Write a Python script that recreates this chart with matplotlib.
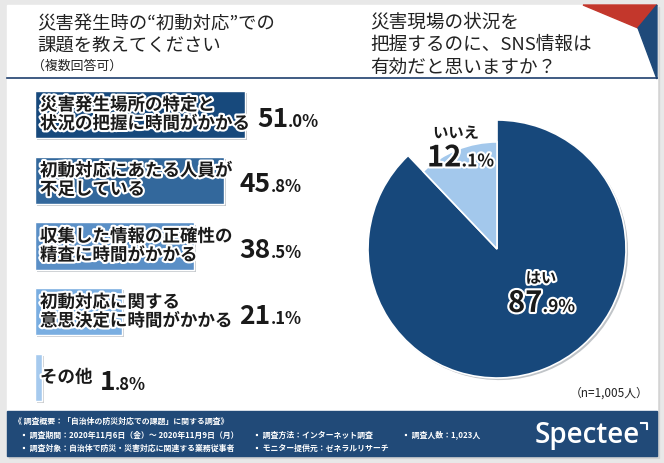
import matplotlib.pyplot as plt
import matplotlib.patheffects as pe
from matplotlib.patches import Rectangle, Polygon

plt.rcParams['font.family'] = ['Noto Sans CJK JP', 'DejaVu Sans']

# Data
issue_labels = ['災害発生場所の特定と\n状況の把握に時間がかかる',
                '初動対応にあたる人員が\n不足している',
                '収集した情報の正確性の\n精査に時間がかかる',
                '初動対応に関する\n意思決定に時間がかかる',
                'その他']
issue_values = [51.0, 45.8, 38.5, 21.1, 1.8]
bar_colors = ['#17497c', '#33689c', '#5a8fc6', '#7aaee1', '#a6caee']

pie_labels = ['はい', 'いいえ']
pie_values = [87.9, 12.1]
pie_colors = ['#17487b', '#a3c8ec']

left_title = ['災害発生時の“初動対応”での', '課題を教えてください']
right_title = ['災害現場の状況を', '把握するのに、SNS情報は', '有効だと思いますか？']

W, H = 664, 464
fig = plt.figure(figsize=(W / 100, H / 100), dpi=100)
fig.patch.set_facecolor('#e8e8e8')

# background card, drawn in pixel coordinates
bg = fig.add_axes([0, 0, 1, 1])
bg.set_xlim(0, W)
bg.set_ylim(H, 0)
bg.axis('off')
bg.set_zorder(-1)
bg.add_patch(Rectangle((9, 8), 650, 451, color='#d4d4d4'))
bg.add_patch(Rectangle((7, 6), 650, 406, color='white'))
bg.add_patch(Rectangle((7, 412), 650, 45, color='#214a78'))
bg.add_patch(Polygon([(583, 6), (657, 6), (638, 29)], color='#c3372c'))
bg.add_patch(Polygon([(657, 6), (638, 29), (657, 80)], color='#1f4a7a'))
bg.plot([7, 657], [79, 79], color='#1f3f6e', lw=1.2)

for k, line in enumerate(left_title):
    bg.text(37, 24 + k * 21.5, line, fontsize=13.2, va='center', ha='left', color='#222222')
bg.text(32, 66, '（複数回答可）', fontsize=9.3, va='center', ha='left', color='#222222')
for k, line in enumerate(right_title):
    bg.text(370, 22 + k * 23, line, fontsize=13.4, va='center', ha='left', color='#222222')
bg.text(648, 393, '（n=1,005人）', fontsize=8.5, va='center', ha='right', color='#222222')

# footer
foot_kw = dict(fontsize=5.7, color='white', va='center', ha='left', fontweight='bold')
bg.text(14, 421, '《 調査概要：「自治体の防災対応での課題」に関する調査》', **foot_kw)
bg.text(20, 435, '▪ 調査期間：2020年11月6日（金）～ 2020年11月9日（月）', **foot_kw)
bg.text(20, 448, '▪ 調査対象：自治体で防災・災害対応に関連する業務従事者', **foot_kw)
bg.text(253, 435, '▪ 調査方法：インターネット調査', **foot_kw)
bg.text(253, 448, '▪ モニター提供元：ゼネラルリサーチ', **foot_kw)
bg.text(402, 435, '▪ 調査人数：1,023人', **foot_kw)
bg.text(640, 436, 'Spectee', fontsize=20, family='Open Sans', fontweight='semibold',
        color='white', va='center', ha='right')
bg.plot([641, 647, 647], [424, 424, 430], color='white', lw=1.5)

# bar chart
px_per_pct = 4.12
ax = fig.add_axes([35 / W, 1 - 411.4 / H, 80 * px_per_pct / W, 328.8 / H])
ax.set_xlim(0, 80)
ax.set_ylim(4.5, -0.5)
ax.axis('off')
shadow = [pe.SimplePatchShadow(offset=(1.5, -1.5), alpha=0.25), pe.Normal()]
bars = ax.barh(range(len(issue_values)), issue_values, height=0.715,
               color=bar_colors, edgecolor='white', linewidth=1)
for b in bars:
    b.set_path_effects(shadow)

outline = [pe.withStroke(linewidth=3, foreground='white')]
for i, (lab, val) in enumerate(zip(issue_labels, issue_values)):
    t = ax.text(1.2, i, lab, fontsize=12.6, fontweight='bold', va='center', ha='left',
                linespacing=1.05, color='#1a1a1a', path_effects=outline)
    whole, frac = f'{val:.1f}'.split('.')
    big = ax.annotate(whole, xy=(1, i), xycoords=(t, 'data'), xytext=(5, -8),
                      textcoords='offset points', fontsize=19, fontweight='bold',
                      va='baseline', ha='left', color='#1a1a1a')
    ax.annotate('.' + frac + '%', xy=(1, i), xycoords=(big, 'data'), xytext=(0, -8),
                textcoords='offset points', fontsize=12, fontweight='bold',
                va='baseline', ha='left', color='#1a1a1a')

# pie chart
R = 129
pax = fig.add_axes([(497 - R) / W, 1 - (250 + R) / H, 2 * R / W, 2 * R / H])
wedges, _ = pax.pie(pie_values, colors=pie_colors, startangle=90, counterclock=False,
                    wedgeprops=dict(edgecolor='white', linewidth=1.2))
wedges[1].set_radius(0.83)
wedges[0].set_path_effects(shadow)
pax.set_xlim(-1, 1)
pax.set_ylim(-1, 1)
pax.set_aspect('equal')
pax.axis('off')

pie_pos = {'はい': ((0.341, -0.225), (0.085, -0.488)),
           'いいえ': ((-0.318, 0.9), (-0.543, 0.64))}
for lab, val in zip(pie_labels, pie_values):
    (lx, ly), (nx, ny) = pie_pos[lab]
    pax.text(lx, ly, lab, fontsize=11, fontweight='bold', ha='center', va='center',
             color='#1a1a1a', path_effects=outline)
    whole, frac = f'{val:.1f}'.split('.')
    big = pax.text(nx, ny, whole, fontsize=21, fontweight='bold', ha='left', va='baseline',
                   color='#1a1a1a', path_effects=outline)
    pax.annotate('.' + frac + '%', xy=(1, ny), xycoords=(big, 'data'), fontsize=12.5,
                 fontweight='bold', ha='left', va='baseline', color='#1a1a1a',
                 path_effects=outline)

fig.savefig('out.png', dpi=100, facecolor=fig.get_facecolor())
